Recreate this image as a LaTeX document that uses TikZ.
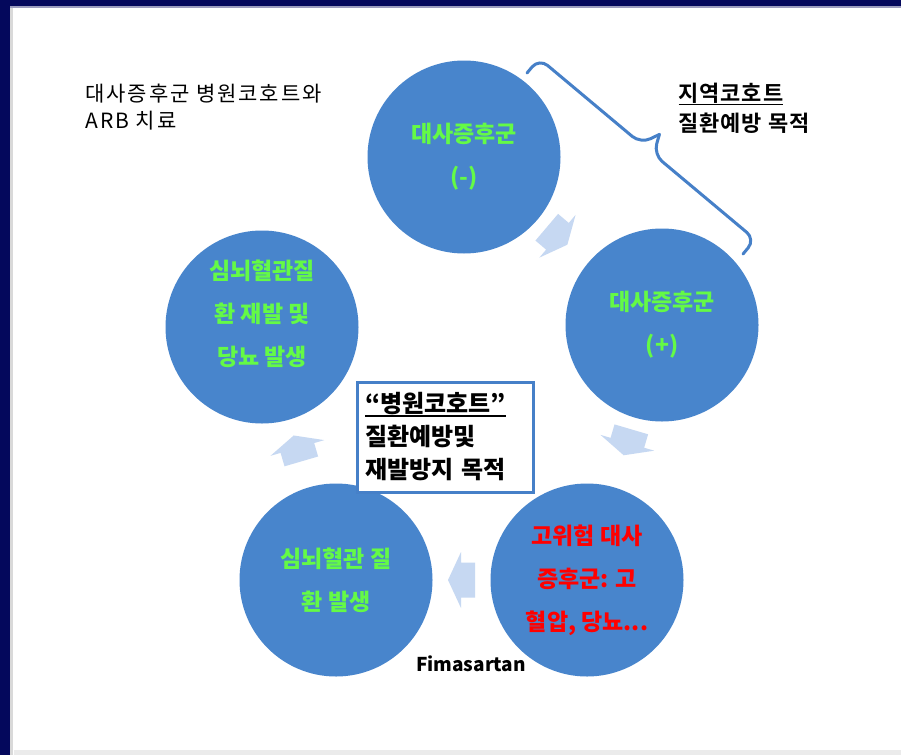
\documentclass[tikz,border=0pt]{standalone}
\usepackage{fontspec}
\setmainfont{Noto Sans CJK KR}
\newfontfamily\krspaced[LetterSpace=9]{Noto Sans CJK KR}
\newfontfamily\krspacedb[LetterSpace=4]{Noto Sans CJK KR Bold}
\usetikzlibrary{calc,decorations.pathreplacing}
\definecolor{navy}{RGB}{4,8,92}
\definecolor{cblue}{RGB}{72,133,204}
\definecolor{lineblue}{RGB}{70,128,200}
\definecolor{arrowblue}{RGB}{198,216,242}
\definecolor{tgreen}{RGB}{100,250,70}
\newcommand\ulx[1]{\setbox0\hbox{#1}\rlap{\rule[-4pt]{\wd0}{1.6pt}}\box0}
\tikzset{
  circ/.style={circle, fill=cblue, minimum size=193pt, inner sep=0pt, align=center,
    text=tgreen, font=\bfseries\fontsize{23}{43}\selectfont},
  cycarrow/.style={fill=arrowblue},
  bracestyle/.style={lineblue, line width=3pt, line cap=round, line join=round},
}
\begin{document}
\begin{tikzpicture}[x=1pt,y=-1pt]
\useasboundingbox (0,0) rectangle (901,755);
\fill[white] (0,0) rectangle (901,755);
% frame
\fill[navy] (0,0) rectangle (901,6);
\fill[black!8] (14,750) rectangle (901,755);
\fill[navy] (0,0) rectangle (10,755);
\fill[navy!40] (10,6) rectangle (901,7.5);
\fill[black!15] (10,7.5) rectangle (13,755);

% circles
\node[circ] (c1) at (464,157) {대사증후군\\(-)};
\node[circ] (c2) at (662,325) {대사증후군\\(+)};
\node[circ, text=red] (c3) at (587,580) {고위험 대사\\증후군: 고\\혈압, 당뇨...};
\node[circ] (c4) at (336,580) {심뇌혈관 질\\환 발생};
\node[circ] (c5) at (262,327) {};
\node[circ, fill=none, minimum size=0pt] (c5t) at (262,314) {심뇌혈관질\\환 재발 및\\당뇨 발생};

% cycle arrows
\foreach \a/\b/\f/\ang in {c1/c2/0.47/-40.3, c2/c3/0.46/-106.4, c3/c4/0.5/180, c4/c5/0.52/106.3}{
  \begin{scope}[shift={($(\a)!\f!(\b)$)}, rotate=\ang]
    \fill[cycarrow] (-13.5,-17.5) -- (0.5,-17.5) -- (0.5,-28) -- (13.5,0)
      -- (0.5,28) -- (0.5,17.5) -- (-13.5,17.5) -- cycle;
  \end{scope}
}

% brace
\coordinate (bA) at (527,73);
\coordinate (bB) at (743,254);
\coordinate (h1) at ($(bA)!19pt!90:(bB)$);
\coordinate (h2) at ($(bB)!19pt!-90:(bA)$);
\coordinate (q1b) at ($(bA)!0.47!(bB)$);
\coordinate (q2b) at ($(bA)!0.53!(bB)$);
\coordinate (mb) at ($(bA)!0.5!(bB)$);
\coordinate (q1) at ($(q1b)!19pt!90:(bB)$);
\coordinate (q2) at ($(q2b)!19pt!90:(bB)$);
\coordinate (tip) at ($(mb)!38pt!90:(bB)$);
\draw[bracestyle, rounded corners=11pt] (bA) -- (h1) -- (q1) -- (tip);
\draw[bracestyle, rounded corners=11pt] (tip) -- (q2) -- (h2) -- (bB);

% texts
\node[anchor=west, align=left, font=\krspaced\fontsize{21}{27}\selectfont] (t1) at (82,107)
  {대사증후군 병원코호트와\\ARB 치료};
\node[anchor=west, align=left, font=\krspacedb\fontsize{22}{30}\selectfont] (t2) at (675,108)
  {\ulx{지역코호트}\\질환예방 목적};
\node[draw=lineblue, line width=3pt, fill=white, minimum width=176pt, minimum height=110pt,
  text width=160pt, inner sep=8pt, align=left, font=\bfseries\fontsize{24}{33}\selectfont]
  (box) at (445,437) {\ulx{“병원코호트”}\\질환예방및\\재발방지 목적};
\node[font=\bfseries\fontsize{19}{19}\selectfont] (fm) at (471,664) {Fimasartan};
\end{tikzpicture}
\end{document}
